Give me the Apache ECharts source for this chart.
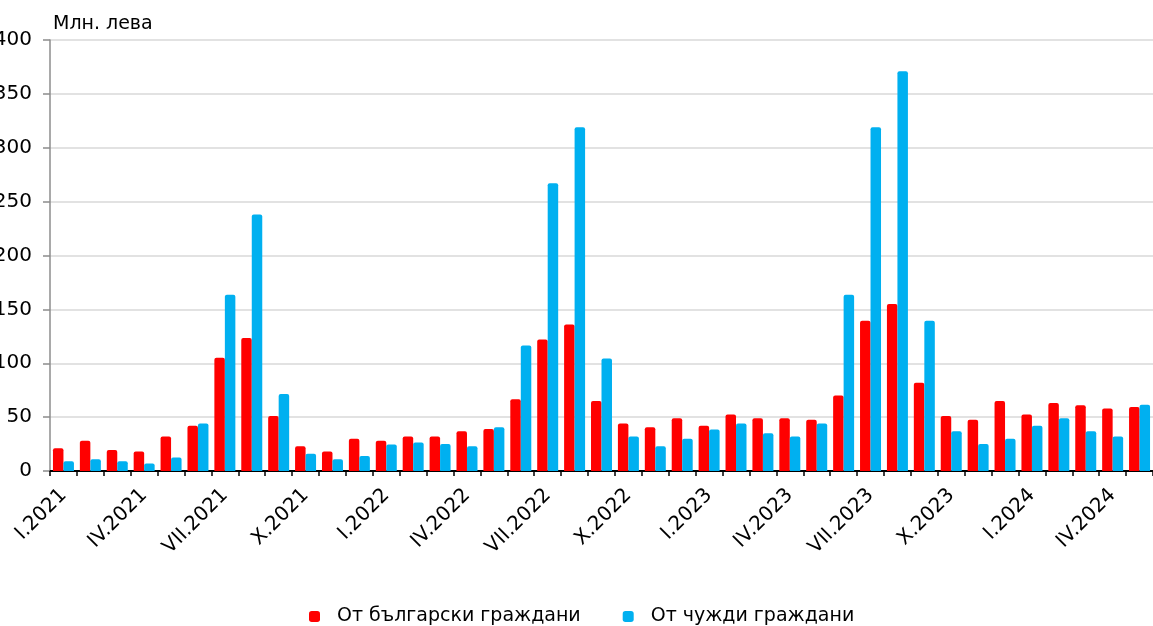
<!DOCTYPE html>
<html>
<head>
<meta charset="utf-8">
<script src="https://cdn.jsdelivr.net/npm/echarts@6/dist/echarts.min.js"></script>
<style>html,body{margin:0;padding:0;background:#fff}#c{width:1153px;height:626px}</style>
</head>
<body>
<div id="c"></div>
<script>
var categories = [
  'I.2021','II.2021','III.2021','IV.2021','V.2021','VI.2021','VII.2021','VIII.2021','IX.2021','X.2021','XI.2021','XII.2021',
  'I.2022','II.2022','III.2022','IV.2022','V.2022','VI.2022','VII.2022','VIII.2022','IX.2022','X.2022','XI.2022','XII.2022',
  'I.2023','II.2023','III.2023','IV.2023','V.2023','VI.2023','VII.2023','VIII.2023','IX.2023','X.2023','XI.2023','XII.2023',
  'I.2024','II.2024','III.2024','IV.2024','V.2024'
];
var bulgarian = [
  21, 28, 19.5, 18, 32, 42, 105, 123.5, 51, 23, 18, 30,
  28, 32, 32, 37, 39, 66.5, 122, 136, 65, 44, 40.5, 49,
  42, 52.5, 49, 49, 47.5, 70, 139.5, 155, 82, 51, 47.5, 65,
  52.5, 63, 61, 58, 59.5
];
var foreign = [
  9, 11, 9, 7, 12.5, 44, 163.5, 238, 71.5, 16, 11, 14,
  24.5, 26.5, 25, 23, 40.5, 116.5, 267, 319, 104.5, 32, 23, 30,
  38.5, 44, 35, 32, 44, 163.5, 319, 371, 139.5, 37, 25, 30,
  42, 49, 37, 32, 61.5
];
var yTicks = [0, 50, 100, 150, 200, 250, 300, 350, 400];
var seriesNames = ['От български граждани', 'От чужди граждани'];
var unitLabel = 'Млн. лева';

var chart = echarts.init(document.getElementById('c'), null, {renderer: 'canvas'});
var font = 'DejaVu Sans, Verdana, sans-serif';
chart.setOption({
  animation: false,
  backgroundColor: '#ffffff',
  textStyle: {fontFamily: font},
  title: {
    text: unitLabel, left: 48, top: 10,
    textStyle: {fontFamily: font, fontSize: 19, fontWeight: 'normal', color: '#000'}
  },
  legend: {
    data: seriesNames,
    top: 602, left: 304,
    itemWidth: 11, itemHeight: 11, itemGap: 42,
    icon: 'roundRect',
    textStyle: {fontFamily: font, fontSize: 19, color: '#000', padding: [0, 0, 0, 12]}
  },
  grid: {left: 50, right: 0, top: 40, bottom: 155, containLabel: false, outerBoundsMode: 'none'},
  xAxis: {
    type: 'category',
    data: categories,
    boundaryGap: true,
    axisLine: {show: true, lineStyle: {color: '#000', width: 2}},
    axisTick: {show: true, interval: 0, length: 5, lineStyle: {color: '#000', width: 1.5}},
    axisLabel: {
      interval: 2, rotate: 45, margin: 21,
      fontFamily: font, fontSize: 20, color: '#000'
    },
    splitLine: {show: false}
  },
  yAxis: {
    type: 'value',
    min: yTicks[0], max: yTicks[yTicks.length - 1], interval: 50,
    axisLine: {show: true, lineStyle: {color: '#8c8c8c', width: 1.5}},
    axisTick: {show: true, length: 7, lineStyle: {color: '#8c8c8c', width: 1.5}},
    axisLabel: {margin: 18, fontFamily: font, fontSize: 20, color: '#000'},
    splitLine: {show: true, lineStyle: {color: '#d9d9d9', width: 1.5}}
  },
  series: [
    {
      name: seriesNames[0], type: 'bar', data: bulgarian,
      barGap: '0%', barCategoryGap: '22%',
      itemStyle: {color: '#ff0000', borderRadius: [2, 2, 0, 0]}
    },
    {
      name: seriesNames[1], type: 'bar', data: foreign,
      barGap: '0%', barCategoryGap: '22%',
      itemStyle: {color: '#00b0f0', borderRadius: [2, 2, 0, 0]}
    }
  ]
});
</script>
</body>
</html>
